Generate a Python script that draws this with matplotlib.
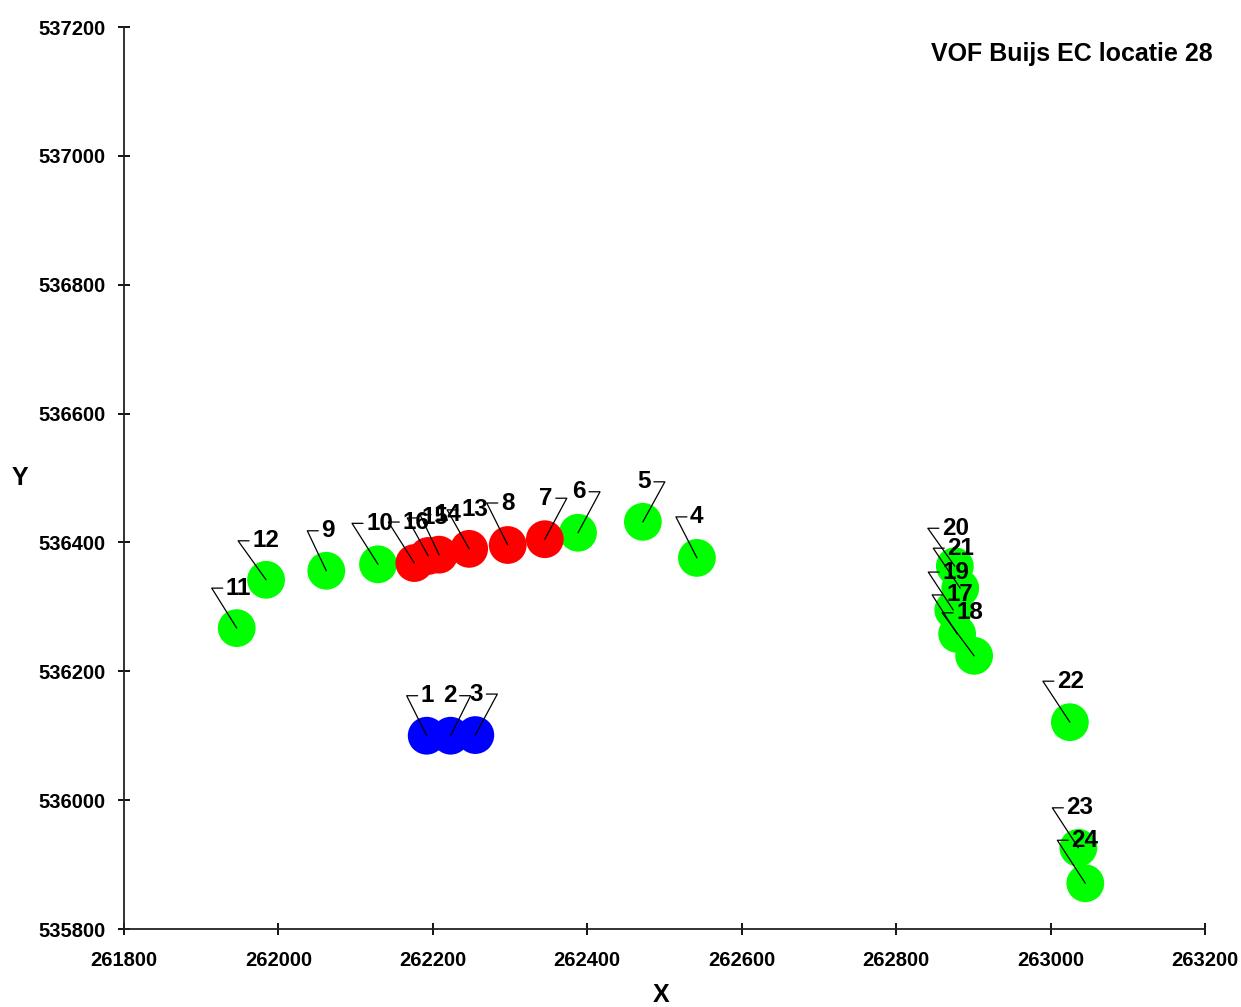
import matplotlib
matplotlib.use("Agg")
import matplotlib.pyplot as plt
import math

# ---------------- data ----------------
labels = ["1", "2", "3", "4", "5", "6", "7", "8", "9", "10", "11", "12",
          "13", "14", "15", "16", "17", "18", "19", "20", "21", "22", "23", "24"]
x_vals = [262192, 262223, 262255, 262542, 262472, 262388, 262345, 262297,
          262062, 262129, 261946, 261984, 262247, 262208, 262194, 262176,
          262879, 262901, 262874, 262876, 262883, 263025, 263036, 263045]
y_vals = [536100, 536100, 536101, 536376, 536432, 536415, 536405, 536396,
          536356, 536366, 536267, 536342, 536390, 536381, 536379, 536368,
          536258, 536224, 536295, 536363, 536329, 536121, 535926, 535871]
groups = ["blue", "blue", "blue", "green", "green", "green", "red", "red",
          "green", "green", "green", "green", "red", "red", "red", "red",
          "green", "green", "green", "green", "green", "green", "green", "green"]
x_ticks = [261800, 262000, 262200, 262400, 262600, 262800, 263000, 263200]
y_ticks = [535800, 536000, 536200, 536400, 536600, 536800, 537000, 537200]
title = "VOF Buijs EC locatie 28"

# ---------------- style ----------------
colors = {"blue": "#0000FF", "green": "#00FF00", "red": "#FF0000"}
# leader layout per label: (side, dx, dy) in pixels, bend relative to point
leader = {
    "1": ("L", -20, 40), "2": ("R", 20, 40), "3": ("R", 22, 41),
    "4": ("L", -21, 41), "5": ("R", 22, 40), "6": ("R", 22, 41),
    "7": ("R", 22, 41), "8": ("L", -21, 42), "9": ("L", -19, 40),
    "10": ("L", -26, 41), "11": ("L", -25, 40), "12": ("L", -28, 39),
    "13": ("L", -22, 39), "14": ("L", -19, 40), "15": ("L", -21, 38),
    "16": ("L", -26, 41), "17": ("L", -25, 39), "18": ("L", -32, 43),
    "19": ("L", -25, 38), "20": ("L", -27, 38), "21": ("L", -27, 40),
    "22": ("L", -27, 41), "23": ("L", -26, 40), "24": ("L", -28, 43),
}
HLEN = 11
GAP = 3

plt.rcParams['font.family'] = ['Liberation Sans', 'DejaVu Sans']
fig = plt.figure(figsize=(12.41, 10.07), dpi=100)
ax = fig.add_axes([124 / 1241, 78 / 1007, (1205 - 124) / 1241, (929 - 27) / 1007])

ax.scatter(x_vals, y_vals, s=740, c=[colors[g] for g in groups],
           edgecolors='none', zorder=2)

for lab, xv, yv in zip(labels, x_vals, y_vals):
    side, dx, dy = leader[lab]
    angB = math.degrees(math.atan2(dy, dx))
    if side == "L":
        tx = dx + HLEN + GAP
        ha = "left"
        rel = (0, 0.5)
    else:
        tx = dx - HLEN - GAP
        ha = "right"
        rel = (1, 0.5)
    ax.annotate(lab, xy=(xv, yv), xytext=(tx, dy), textcoords='offset pixels',
                ha=ha, va='center', fontsize=17.5, fontweight='bold', color='black',
                zorder=4,
                arrowprops=dict(arrowstyle='-', color='black', lw=0.9,
                                connectionstyle=f'angle,angleA=0,angleB={angB},rad=0',
                                relpos=rel, shrinkA=GAP * 72 / 100, shrinkB=0,
                                patchA=None))

ax.set_xlim(x_ticks[0], x_ticks[-1])
ax.set_ylim(y_ticks[0], y_ticks[-1])
ax.set_xticks(x_ticks)
ax.set_yticks(y_ticks)
ax.set_xticklabels([str(v) for v in x_ticks])
ax.set_yticklabels([str(v) for v in y_ticks])
for s in ['top', 'right']:
    ax.spines[s].set_visible(False)
for s in ['left', 'bottom']:
    ax.spines[s].set_linewidth(1.3)
    ax.spines[s].set_color('#222222')
ax.tick_params(direction='inout', length=8, width=1.3, labelsize=14.5,
               colors='black')
ax.tick_params(axis='x', pad=12)
ax.tick_params(axis='y', pad=9)
for t in ax.get_xticklabels() + ax.get_yticklabels():
    t.set_fontweight('bold')

fig.text(1213 / 1241, 1 - 54 / 1007, title, ha='right', va='center',
         fontsize=18, fontweight='bold')
fig.text(661 / 1241, 1 - 995 / 1007, "X", ha='center', va='center',
         fontsize=18, fontweight='bold')
fig.text(20 / 1241, 1 - 478 / 1007, "Y", ha='center', va='center',
         fontsize=18, fontweight='bold')

fig.savefig("out.png", dpi=100)
